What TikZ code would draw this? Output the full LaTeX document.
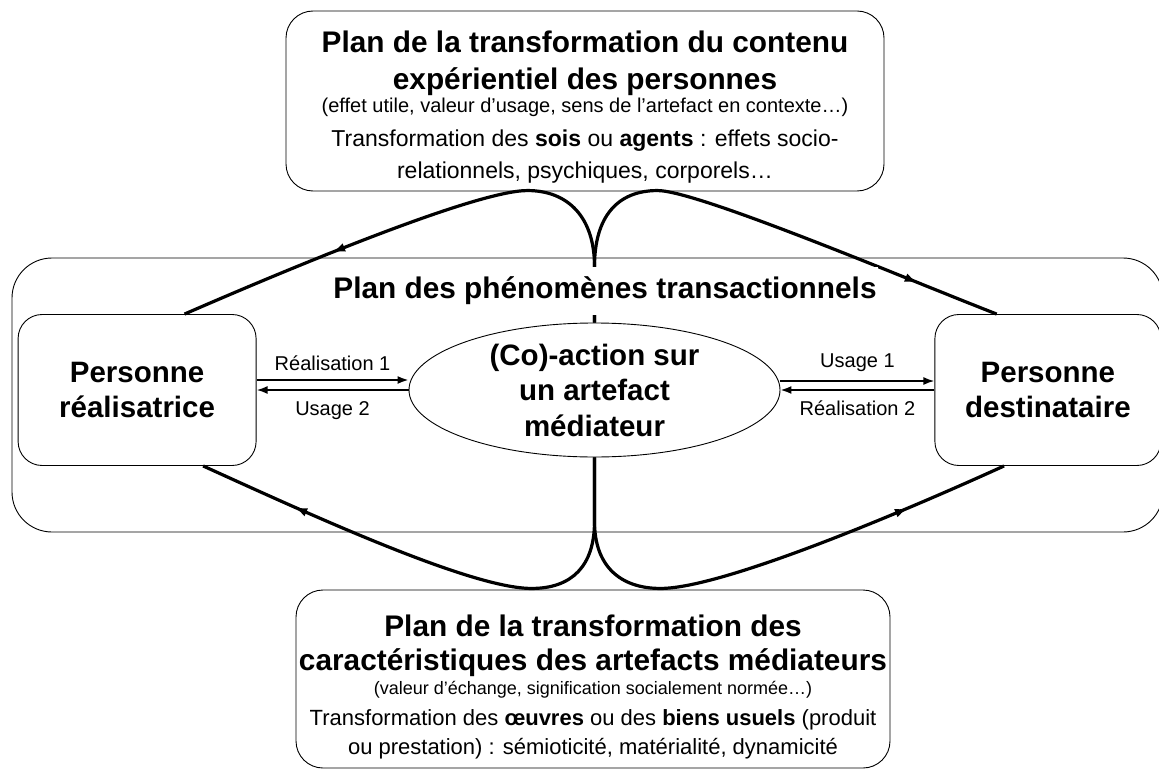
\documentclass[tikz,border=0pt]{standalone}
\usepackage{fontspec}
\setmainfont{Liberation Sans}
\usetikzlibrary{arrows.meta,shapes.geometric,positioning,decorations.markings}

\newcommand{\titre}{\fontsize{29.8}{34}\selectfont\bfseries}
\newcommand{\etiq}{\fontsize{20}{24}\selectfont}

\tikzset{
	plan/.style={draw=black,rectangle,rounded corners=27pt,line width=0.9pt},
	texte/.style={align=center,inner sep=0pt},
	personne/.style={draw=black,rectangle,rounded corners=24pt,line width=0.9pt,align=center,minimum height=151pt,font=\fontsize{29.5}{35}\selectfont\bfseries},
	flux/.style={line width=3.2pt,postaction={decorate},decoration={markings,mark=at position #1 with {\arrow{Latex[length=13pt,width=9pt]}}}},
	echange/.style={line width=1.8pt,-{Latex[length=11pt,width=8pt]}},
}

\begin{document}
\begin{tikzpicture}[x=1pt,y=-1pt]
\useasboundingbox (0,0) rectangle (1159,773);

% les trois plans
\node[draw=black,rectangle,rounded corners=40pt,line width=0.9pt,minimum width=1151pt,minimum height=274pt] (trans) at (587.5,395) {};
\node[plan,minimum width=598pt,minimum height=180pt] (exp) at (585,101) {};
\node[plan,minimum width=594pt,minimum height=178pt] (art) at (593,679) {};

\node[texte,font=\titre] (exptitre) [below=20pt of exp.north] {Plan de la transformation du contenu\\[3pt]expérientiel des personnes};
\node[texte,font=\fontsize{20}{25}\selectfont] (expsous) [below=2pt of exptitre] {(effet utile, valeur d’usage, sens de l’artefact en contexte…)};
\node[texte,font=\fontsize{23}{32}\selectfont] (expcorps) [below=13pt of expsous] {Transformation des \textbf{sois} ou \textbf{agents} : effets socio-\\relationnels, psychiques, corporels…};

\node[texte,font=\titre] (arttitre) [below=25pt of art.north] {Plan de la transformation des\\caractéristiques des artefacts médiateurs};
\node[texte,font=\fontsize{18}{24}\selectfont] (artsous) [below=4.5pt of arttitre] {(valeur d’échange, signification socialement normée…)};
\node[texte,font=\fontsize{22}{29}\selectfont] (artcorps) [below=11pt of artsous] {Transformation des \textbf{œuvres} ou des \textbf{biens usuels} (produit\\ou prestation) : sémioticité, matérialité, dynamicité};

% artefact et personnes
\node[draw=black,ellipse,line width=0.9pt,minimum width=371pt,minimum height=134pt,inner sep=0pt,align=center,font=\fontsize{29.5}{35.5}\selectfont\bfseries] (med) at (594.5,390) {(Co)-action sur\\un artefact\\médiateur};
\node[personne,minimum width=238pt] (real) [left=152pt of med] {Personne\\réalisatrice};
\node[personne,minimum width=226pt] (dest) [right=154pt of med] {Personne\\destinataire};

\draw[echange] ([yshift=10pt]real.east) -- ([yshift=10pt]med.west) node [midway,above=5pt,font=\etiq] {Réalisation 1};
\draw[echange] (med.west) -- (real.east) node [midway,below=7pt,font=\etiq] {Usage 2};
\draw[echange] ([yshift=9pt]med.east) -- ([yshift=9pt]dest.west) node [midway,above=5pt,font=\etiq] {Usage 1};
\draw[echange] (dest.west) -- (med.east) node [midway,below=7pt,font=\etiq] {Réalisation 2};

% les boucles
\coordinate (hautpli) at ([yshift=56pt]med.north);
\coordinate (baspli) at ([yshift=-64pt]med.south);

\draw[flux=-160pt] (med.north) -- (hautpli) .. controls +(0,-50) and +(40,0) .. +(-67,-76) .. controls +(-50,0) and +(115,-50) .. (real.58);
\draw[flux=-85pt] (med.north) -- (hautpli) .. controls +(0,-50) and +(-40,0) .. +(63,-76) .. controls +(40,0) and +(-90,-35) .. (dest.124);
\draw[flux=-100pt] (med.south) -- (baspli) .. controls +(0,45) and +(40,0) .. +(-63,67) .. controls +(-60,0) and +(110,50) .. (real.311);
\draw[flux=-105pt] (med.south) -- (baspli) .. controls +(0,45) and +(-40,0) .. +(66,67) .. controls +(60,0) and +(-110,50) .. (dest.240);

\node[fill=white,inner xsep=1pt,inner ysep=10pt,font=\titre] (titretrans) at (605,291) {Plan des phénomènes transactionnels};

\end{tikzpicture}
\end{document}
